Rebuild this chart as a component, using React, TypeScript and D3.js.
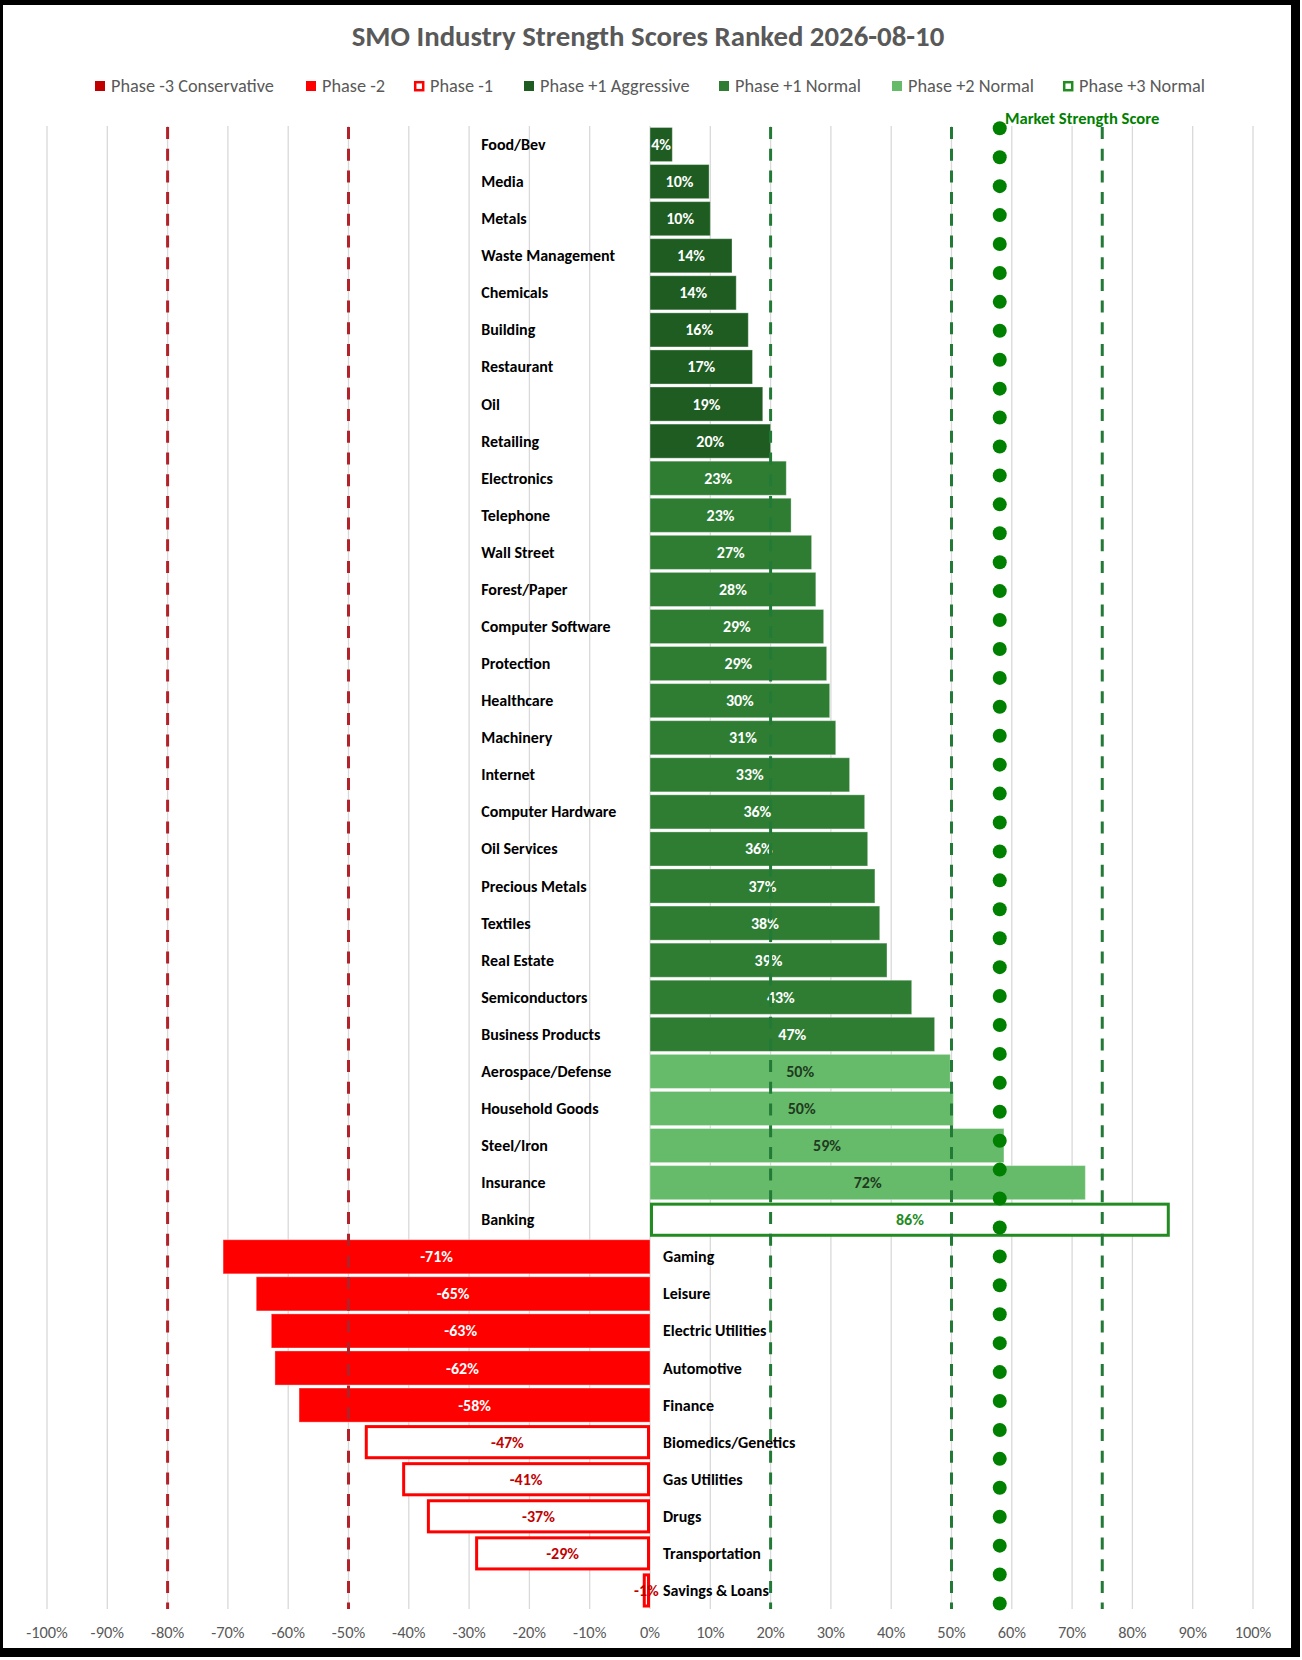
import React from "react"
import * as d3 from "d3"

// chart values
const categories = [
  "Food/Bev", "Media", "Metals", "Waste Management", "Chemicals", "Building", "Restaurant", "Oil",
  "Retailing", "Electronics", "Telephone", "Wall Street", "Forest/Paper", "Computer Software",
  "Protection", "Healthcare", "Machinery", "Internet", "Computer Hardware", "Oil Services",
  "Precious Metals", "Textiles", "Real Estate", "Semiconductors", "Business Products",
  "Aerospace/Defense", "Household Goods", "Steel/Iron", "Insurance", "Banking",
  "Gaming", "Leisure", "Electric Utilities", "Automotive", "Finance",
  "Biomedics/Genetics", "Gas Utilities", "Drugs", "Transportation", "Savings & Loans",
]

const scores = [
  0.037, 0.098, 0.1, 0.136, 0.143, 0.163, 0.17, 0.187,
  0.2, 0.226, 0.234, 0.268, 0.275, 0.288,
  0.293, 0.298, 0.308, 0.331, 0.356, 0.361,
  0.373, 0.381, 0.393, 0.434, 0.472,
  0.498, 0.503, 0.587, 0.722, 0.862,
  -0.708, -0.653, -0.628, -0.622, -0.582,
  -0.473, -0.411, -0.37, -0.29, -0.012,
]

// phase key per category
const phases = [
  "p1a", "p1a", "p1a", "p1a", "p1a", "p1a", "p1a", "p1a",
  "p1a", "p1n", "p1n", "p1n", "p1n", "p1n",
  "p1n", "p1n", "p1n", "p1n", "p1n", "p1n",
  "p1n", "p1n", "p1n", "p1n", "p1n",
  "p2", "p2", "p2", "p2", "p3",
  "m2", "m2", "m2", "m2", "m2",
  "m1", "m1", "m1", "m1", "m1",
]

const legendKeys = ["m3", "m2", "m1", "p1a", "p1n", "p2", "p3"]
const legendLabels = [
  "Phase -3 Conservative", "Phase -2", "Phase -1", "Phase +1 Aggressive",
  "Phase +1 Normal", "Phase +2 Normal", "Phase +3 Normal",
]
const legendX = [95, 306, 414, 524, 719, 892, 1063]

const xTicks = [-1, -0.9, -0.8, -0.7, -0.6, -0.5, -0.4, -0.3, -0.2, -0.1, 0, 0.1, 0.2, 0.3, 0.4, 0.5, 0.6, 0.7, 0.8, 0.9, 1]
const redThresholds = [-0.8, -0.5]
const greenThresholds = [0.2, 0.5, 0.75]

const marketScore = 0.58
const marketDots = d3.range(52) // one marker per slot of the secondary axis

const phaseStyle: Record<string, { fill: string; stroke: string; text: string }> = {
  m3: { fill: "#C00000", stroke: "none", text: "#ffffff" },
  m2: { fill: "#FF0000", stroke: "none", text: "#ffffff" },
  m1: { fill: "#ffffff", stroke: "#FF0000", text: "#C00000" },
  p1a: { fill: "#1E5C21", stroke: "none", text: "#ffffff" },
  p1n: { fill: "#2E7D33", stroke: "none", text: "#ffffff" },
  p2: { fill: "#66BB6A", stroke: "none", text: "#1F3A1F" },
  p3: { fill: "#ffffff", stroke: "#228B22", text: "#228B22" },
}

const FONT = "'Liberation Sans Narrow', 'Arial Narrow', Carlito, Calibri, Lato, Roboto, sans-serif"

const W = 1302
const H = 1660
const plotTop = 126
const plotBottom = 1609

export default function App() {
  const x = d3.scaleLinear().domain([-1, 1]).range([47, 1253])
  const y = d3
    .scaleBand<string>()
    .domain(categories)
    .range([plotTop, plotBottom])
    .paddingInner(0.08)
    .paddingOuter(0.04)
  const yDot = d3.scaleLinear().domain([0, 51]).range([128.3, 1603.5])
  const bw = y.bandwidth()

  const pct = (v: number) => `${Math.round(v * 100)}%`

  return (
    <svg width={W} height={H} style={{ display: "block" }} fontFamily={FONT}>
      <style>{`body{margin:0}`}</style>
      {/* frame with shadow */}
      <rect x={0} y={0} width={1300} height={1657} fill="#000" />
      <rect x={3} y={5} width={1288} height={1643} fill="#fff" />

      <text x={648} y={36} textAnchor="middle" dominantBaseline="central" fontSize={28.8} fontWeight="bold" fill="#595959">
        SMO Industry Strength Scores Ranked 2026-08-10
      </text>

      {/* legend */}
      <g>
        {legendKeys.map((k, i) => {
          const s = phaseStyle[k]
          const outlined = s.stroke !== "none"
          return (
            <g key={k} transform={`translate(${legendX[i]},86)`}>
              {outlined ? (
                <rect x={1.2} y={-3.8} width={8} height={8} fill="#fff" stroke={s.stroke} strokeWidth={2.5} />
              ) : (
                <rect x={0} y={-5} width={10} height={10} fill={s.fill} />
              )}
              <text x={16} y={0} dominantBaseline="central" fontSize={18.3} fill="#595959">
                {legendLabels[i]}
              </text>
            </g>
          )
        })}
      </g>

      {/* gridlines */}
      <g>
        {xTicks.map((t) => (
          <line key={t} x1={x(t)} x2={x(t)} y1={plotTop} y2={plotBottom} stroke="#D9D9D9" strokeWidth={1.3} />
        ))}
      </g>

      {/* bars */}
      <g>
        {categories.map((c, i) => {
          const v = scores[i]
          const s = phaseStyle[phases[i]]
          const x0 = Math.min(x(0), x(v))
          const w = Math.abs(x(v) - x(0))
          const outlined = s.stroke !== "none"
          return outlined ? (
            <rect key={c} x={x0 + 1.5} y={y(c)! + 1.5} width={Math.max(w - 3, 0.5)} height={bw - 3} fill={s.fill} stroke={s.stroke} strokeWidth={3} />
          ) : (
            <rect key={c} x={x0} y={y(c)!} width={w} height={bw} fill={s.fill} stroke="#ffffff" strokeOpacity={0.35} strokeWidth={1} />
          )
        })}
      </g>

      {/* category labels */}
      <g fontSize={16} fontWeight="bold" fill="#000">
        {categories.map((c, i) => (
          <text key={c} x={scores[i] >= 0 ? x(-0.28) : x(0) + 13} y={y(c)! + bw / 2} dominantBaseline="central">
            {c}
          </text>
        ))}
      </g>

      {/* value labels */}
      <g fontSize={16} fontWeight="bold" textAnchor="middle">
        {categories.map((c, i) => (
          <text key={c} x={x(scores[i] / 2)} y={y(c)! + bw / 2} dominantBaseline="central" fill={phaseStyle[phases[i]].text}>
            {pct(scores[i])}
          </text>
        ))}
      </g>

      {/* threshold lines */}
      <g strokeWidth={3} strokeDasharray="12,9.7">
        {redThresholds.map((t) => (
          <line key={t} x1={x(t)} x2={x(t)} y1={plotTop + 1} y2={plotBottom} stroke="#B22228" />
        ))}
        {greenThresholds.map((t) => (
          <line key={t} x1={x(t)} x2={x(t)} y1={plotTop + 1} y2={plotBottom} stroke="#237A37" />
        ))}
      </g>

      {/* market strength score */}
      <g fill="#008000">
        {marketDots.map((d) => (
          <circle key={d} cx={x(marketScore)} cy={yDot(d)} r={7} />
        ))}
      </g>
      <text x={1005} y={118} dominantBaseline="central" fontSize={16.6} fontWeight="bold" fill="#008000">
        Market Strength Score
      </text>

      {/* x axis labels */}
      <g fontSize={16.4} fill="#595959" textAnchor="middle">
        {xTicks.map((t) => (
          <text key={t} x={x(t)} y={1632} dominantBaseline="central">
            {pct(t)}
          </text>
        ))}
      </g>
    </svg>
  )
}
